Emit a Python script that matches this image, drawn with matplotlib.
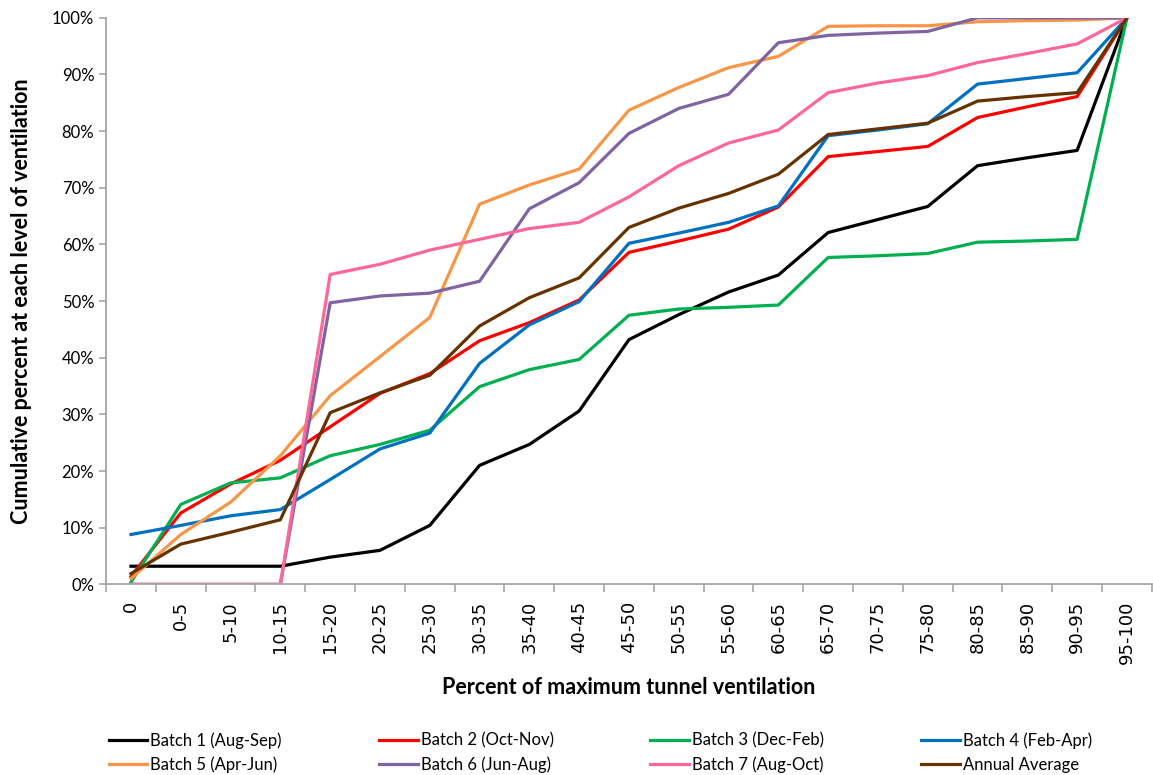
import matplotlib.pyplot as plt
import numpy as np
from matplotlib.ticker import FixedLocator, PercentFormatter

categories = ["0", "0-5", "5-10", "10-15", "15-20", "20-25", "25-30", "30-35", "35-40",
              "40-45", "45-50", "50-55", "55-60", "60-65", "65-70", "70-75", "75-80",
              "80-85", "85-90", "90-95", "95-100"]

batch1 = [3.2, 3.2, 3.2, 3.2, 4.8, 6.0, 10.4, 21.0, 24.7, 30.6, 43.2, 47.6, 51.6, 54.6,
          62.1, 64.4, 66.7, 73.9, 75.3, 76.6, 100]
batch2 = [1.4, 12.6, 17.7, 21.9, 27.8, 33.7, 37.2, 43.0, 46.2, 50.2, 58.6, 60.6, 62.7, 66.6,
          75.5, 76.4, 77.3, 82.4, 84.3, 86.1, 100]
batch3 = [0.4, 14.1, 17.9, 18.8, 22.7, 24.7, 27.2, 34.9, 37.9, 39.7, 47.5, 48.6, 48.9, 49.3,
          57.7, 58.0, 58.4, 60.4, 60.6, 60.9, 100]
batch4 = [8.8, 10.4, 12.1, 13.2, 18.5, 23.9, 26.7, 39.0, 45.8, 49.9, 60.2, 62.0, 63.9, 66.8,
          79.2, 80.2, 81.3, 88.3, 89.3, 90.3, 100]
batch5 = [1.0, 8.8, 14.5, 22.7, 33.3, 40.2, 47.1, 67.1, 70.5, 73.3, 83.7, 87.7, 91.2, 93.2,
          98.5, 98.6, 98.6, 99.3, 99.5, 99.6, 100]
batch6 = [0, 0, 0, 0, 49.7, 50.9, 51.4, 53.5, 66.3, 70.9, 79.6, 84.0, 86.5, 95.6,
          96.9, 97.3, 97.6, 100, 100, 100, 100]
batch7 = [0, 0, 0, 0, 54.7, 56.5, 59.0, 60.9, 62.8, 63.9, 68.4, 73.9, 77.9, 80.2,
          86.8, 88.5, 89.8, 92.1, 93.7, 95.4, 100]
annual = [1.9, 7.1, 9.2, 11.4, 30.3, 33.8, 36.9, 45.6, 50.6, 54.1, 63.0, 66.4, 69.0, 72.4,
          79.4, 80.4, 81.4, 85.3, 86.1, 86.8, 100]

series = [
    ("Batch 1 (Aug-Sep)", batch1, "#000000"),
    ("Batch 2 (Oct-Nov)", batch2, "#FF0000"),
    ("Batch 3 (Dec-Feb)", batch3, "#00B050"),
    ("Batch 4 (Feb-Apr)", batch4, "#0070C0"),
    ("Batch 5 (Apr-Jun)", batch5, "#F79646"),
    ("Batch 6 (Jun-Aug)", batch6, "#8064A2"),
    ("Batch 7 (Aug-Oct)", batch7, "#FF6699"),
    ("Annual Average", annual, "#663300"),
]

plt.rcParams['font.family'] = ['Lato', 'DejaVu Sans']

fig = plt.figure(figsize=(11.53, 7.75), dpi=100)
ax = fig.add_axes([0.092, 0.246, 0.907, 0.731])

x = np.arange(len(categories))
lines = []
for label, vals, color in series:
    ln, = ax.plot(x, vals, color=color, lw=2.3, label=label)
    lines.append(ln)

ax.set_xlim(-0.5, len(categories) - 0.5)
ax.set_ylim(0, 100)
ax.set_yticks(np.arange(0, 101, 10))
ax.yaxis.set_major_formatter(PercentFormatter(decimals=0))

ax.set_xticks(x)
ax.set_xticklabels(categories, rotation=90, fontsize=13, family='DejaVu Sans')
ax.xaxis.set_minor_locator(FixedLocator(np.arange(-0.5, len(categories), 1)))
ax.tick_params(axis='x', which='major', length=0, pad=12)
ax.tick_params(axis='x', which='minor', length=6, color='#A6A6A6', width=1.2)
ax.tick_params(axis='y', length=5, color='#A6A6A6', width=1.2, labelsize=12)

for side in ['top', 'right']:
    ax.spines[side].set_visible(False)
for side in ['left', 'bottom']:
    ax.spines[side].set_color('#A6A6A6')
    ax.spines[side].set_linewidth(1.3)

ax.set_xlabel("Percent of maximum tunnel ventilation", fontsize=15.5, fontweight='bold', labelpad=9)
ax.set_ylabel("Cumulative percent at each level of ventilation", fontsize=15.5, fontweight='bold')
ax.yaxis.set_label_coords(-0.071, 0.5)

# legend: 4 columns, filled row by row, one small legend per column
col_x = [0.084, 0.319, 0.554, 0.789]
for c in range(4):
    handles = [lines[c], lines[c + 4]]
    fig.legend(handles=handles, loc='lower left', bbox_to_anchor=(col_x[c], -0.012), ncol=1,
               frameon=False, fontsize=12, handlelength=2.3, handletextpad=0.2,
               labelspacing=0.45, borderaxespad=0.3)

plt.savefig("out.png", dpi=100)
